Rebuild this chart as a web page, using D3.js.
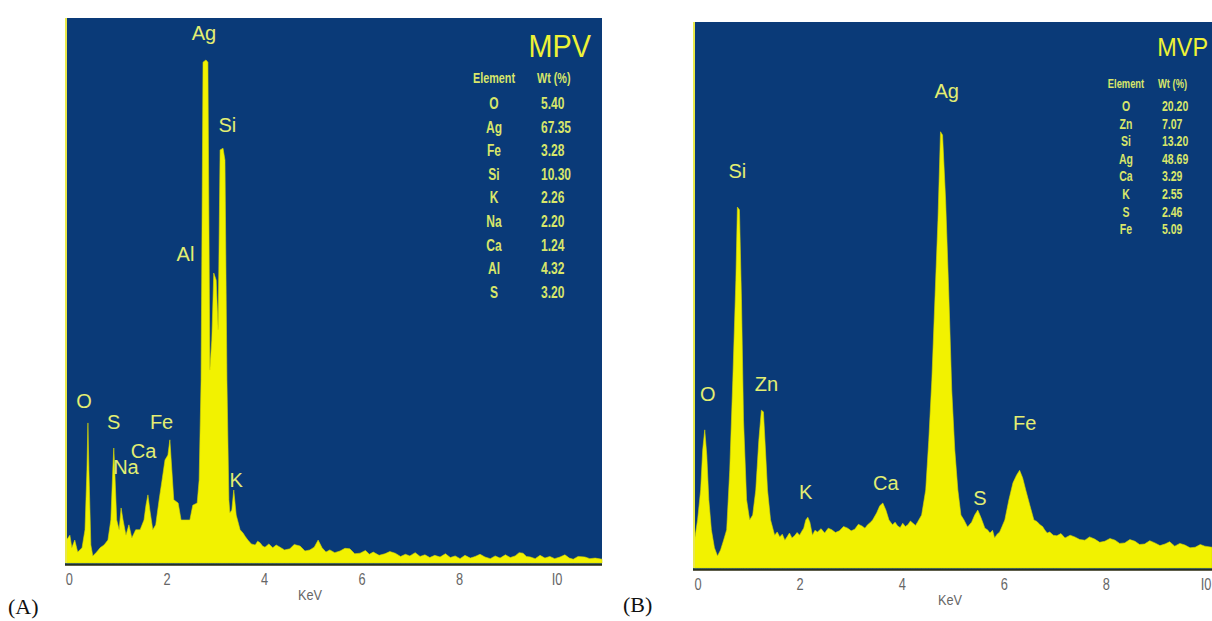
<!DOCTYPE html>
<html>
<head>
<meta charset="utf-8">
<script src="https://cdn.jsdelivr.net/npm/d3@7"></script>
<style>
  body { margin: 0; background: #fff; }
  svg { display: block; }
  .tick text { fill: #666; font-family: "Liberation Sans", Arial, sans-serif; }
</style>
</head>
<body>
<div id="chart"></div>
<script>
// EDX spectra, (A) MPV and (B) MVP.
// counts are % of full scale, energy in keV
var spectrumA = [
  [-0.07, 0], [-0.05, 4.2], [0.02, 5.1], [0.06, 2.8], [0.12, 4.2], [0.18, 2.0], [0.27, 2.8],
  [0.33, 6.1], [0.37, 17.1], [0.39, 25.7], [0.41, 17.1], [0.45, 3.3], [0.49, 1.3], [0.57, 2.0],
  [0.64, 2.8], [0.72, 3.3], [0.80, 4.2], [0.86, 7.9], [0.90, 17.1], [0.92, 21.1], [0.94, 17.1],
  [0.98, 7.9], [1.03, 6.1], [1.07, 10.1], [1.11, 7.9], [1.17, 5.1], [1.23, 7.0], [1.29, 4.6],
  [1.37, 6.1], [1.46, 6.1], [1.54, 7.9], [1.58, 10.6], [1.62, 12.5], [1.66, 9.7], [1.72, 6.1],
  [1.78, 7.0], [1.85, 11.6], [1.91, 15.2], [1.97, 18.9], [2.03, 19.8], [2.07, 22.6], [2.11, 17.1],
  [2.15, 11.6], [2.24, 11.0], [2.30, 7.9], [2.48, 7.9], [2.54, 10.6], [2.63, 11.0], [2.67, 15.2],
  [2.71, 33.6], [2.75, 91.9], [2.81, 92.3], [2.85, 91.9], [2.89, 35.4], [2.93, 40.9], [2.97, 53.2],
  [3.02, 51.9], [3.06, 42.8], [3.10, 75.8], [3.16, 76.1], [3.20, 73.9], [3.24, 33.6], [3.28, 11.6],
  [3.30, 9.2], [3.34, 9.7], [3.38, 13.4], [3.43, 8.8], [3.51, 6.1], [3.57, 5.5], [3.62, 4.8],
  [3.67, 4.2], [3.74, 3.5], [3.82, 3.3], [3.87, 4.0], [3.92, 3.7], [3.97, 3.1], [4.02, 2.9],
  [4.10, 3.5], [4.18, 2.8], [4.25, 3.3], [4.33, 2.9], [4.42, 2.4], [4.53, 2.6], [4.62, 3.4],
  [4.74, 3.1], [4.84, 2.2], [4.94, 2.4], [5.03, 2.9], [5.11, 4.2], [5.19, 2.8], [5.27, 2.0],
  [5.35, 2.4], [5.45, 1.9], [5.56, 2.2], [5.66, 2.7], [5.76, 2.6], [5.86, 1.7], [5.97, 1.8],
  [6.08, 2.3], [6.16, 1.6], [6.24, 2.0], [6.36, 1.4], [6.48, 1.7], [6.58, 2.1], [6.69, 1.8],
  [6.80, 1.2], [6.90, 1.6], [6.99, 1.3], [7.10, 1.9], [7.20, 1.2], [7.30, 1.5], [7.40, 1.0],
  [7.50, 1.4], [7.61, 1.1], [7.72, 1.7], [7.82, 1.0], [7.92, 1.3], [8.02, 0.8], [8.12, 1.4],
  [8.23, 0.9], [8.33, 1.2], [8.43, 1.6], [8.53, 1.1], [8.64, 0.8], [8.74, 1.3], [8.84, 0.9],
  [8.95, 1.5], [9.05, 1.0], [9.15, 1.3], [9.23, 1.9], [9.31, 1.8], [9.38, 1.2], [9.46, 1.1],
  [9.56, 0.8], [9.66, 1.4], [9.76, 0.9], [9.86, 1.2], [9.96, 0.8], [10.07, 1.1], [10.17, 1.5],
  [10.26, 0.9], [10.34, 0.7], [10.44, 1.2], [10.58, 1.1], [10.68, 0.8], [10.79, 0.9], [10.93, 0.7]
];

var spectrumB = [
  [-0.08, 0], [-0.06, 5.1], [0.00, 8.8], [0.06, 14.3], [0.10, 21.6], [0.14, 25.3], [0.18, 20.7],
  [0.22, 12.5], [0.27, 7.0], [0.33, 3.7], [0.39, 2.2], [0.45, 3.3], [0.51, 5.1], [0.57, 7.0],
  [0.63, 17.9], [0.69, 34.4], [0.75, 52.7], [0.78, 66.1], [0.82, 65.6], [0.86, 49.1], [0.90, 27.1],
  [0.96, 12.5], [1.02, 8.8], [1.08, 9.7], [1.14, 14.3], [1.20, 23.4], [1.25, 28.9], [1.29, 28.6],
  [1.33, 21.6], [1.37, 14.3], [1.43, 8.8], [1.51, 6.0], [1.56, 6.6], [1.61, 5.7], [1.66, 6.2],
  [1.71, 5.1], [1.76, 5.8], [1.80, 6.4], [1.85, 5.5], [1.90, 5.9], [1.95, 6.5], [2.00, 6.0],
  [2.04, 6.7], [2.08, 7.3], [2.12, 8.8], [2.16, 9.3], [2.20, 8.4], [2.25, 6.0], [2.30, 6.9],
  [2.35, 6.6], [2.42, 7.2], [2.49, 6.4], [2.56, 7.3], [2.63, 7.0], [2.70, 6.5], [2.78, 6.8],
  [2.86, 7.6], [2.94, 7.3], [3.01, 6.8], [3.08, 7.1], [3.15, 8.0], [3.22, 7.7], [3.28, 7.3],
  [3.33, 7.9], [3.38, 8.3], [3.43, 8.8], [3.51, 10.1], [3.57, 11.4], [3.63, 11.9], [3.69, 10.6],
  [3.75, 8.8], [3.82, 7.9], [3.87, 8.4], [3.92, 7.7], [3.97, 7.4], [4.02, 8.2], [4.07, 7.6],
  [4.12, 7.9], [4.17, 8.6], [4.22, 8.2], [4.27, 7.8], [4.31, 8.4], [4.39, 9.7], [4.47, 14.3],
  [4.53, 23.4], [4.59, 34.4], [4.65, 49.1], [4.71, 63.7], [4.76, 79.9], [4.80, 79.3], [4.86, 67.4],
  [4.92, 50.9], [4.98, 32.6], [5.04, 21.6], [5.10, 14.3], [5.16, 9.7], [5.22, 8.8], [5.29, 7.5],
  [5.37, 8.4], [5.43, 9.7], [5.49, 10.6], [5.55, 9.3], [5.63, 7.3], [5.68, 7.0], [5.73, 6.4],
  [5.78, 6.9], [5.82, 5.5], [5.87, 6.2], [5.92, 6.6], [6.02, 8.8], [6.10, 12.5], [6.18, 15.6],
  [6.25, 17.0], [6.31, 17.9], [6.37, 16.5], [6.43, 14.3], [6.51, 11.5], [6.59, 8.8], [6.65, 8.5],
  [6.71, 7.9], [6.76, 7.6], [6.80, 7.0], [6.85, 6.4], [6.90, 6.6], [6.97, 6.0], [7.04, 5.9],
  [7.12, 6.3], [7.20, 5.5], [7.30, 6.0], [7.39, 5.7], [7.49, 5.2], [7.59, 5.1], [7.68, 5.7],
  [7.78, 5.3], [7.88, 4.7], [7.98, 4.9], [8.08, 5.4], [8.18, 5.1], [8.27, 4.5], [8.37, 4.6],
  [8.47, 5.2], [8.57, 4.9], [8.66, 4.3], [8.76, 4.4], [8.86, 5.0], [8.96, 4.6], [9.06, 4.1],
  [9.16, 4.4], [9.25, 4.8], [9.35, 4.0], [9.45, 4.5], [9.55, 4.2], [9.65, 3.7], [9.75, 3.8],
  [9.85, 4.3], [9.94, 4.0], [10.08, 3.8]
];

// peak labels [text, keV, count]
var peaksA = [
  ["Ag", 2.77, 96.0], ["Si", 3.25, 79.0], ["Al", 2.39, 55.5], ["O", 0.31, 28.5],
  ["S", 0.92, 24.5], ["Fe", 1.90, 24.5], ["Ca", 1.53, 19.2], ["Na", 1.17, 16.4], ["K", 3.43, 13.9]
];
var peaksB = [
  ["Ag", 4.88, 86.0], ["Si", 0.78, 71.5], ["O", 0.20, 30.5], ["Zn", 1.35, 32.5],
  ["K", 2.12, 12.6], ["Ca", 3.69, 14.3], ["S", 5.53, 11.5], ["Fe", 6.41, 25.3]
];

// composition tables
var elementsA = ["O", "Ag", "Fe", "Si", "K", "Na", "Ca", "Al", "S"];
var weightsA = ["5.40", "67.35", "3.28", "10.30", "2.26", "2.20", "1.24", "4.32", "3.20"];
var elementsB = ["O", "Zn", "Si", "Ag", "Ca", "K", "S", "Fe"];
var weightsB = ["20.20", "7.07", "13.20", "48.69", "3.29", "2.55", "2.46", "5.09"];

var kevTicks = [0, 2, 4, 6, 8, 10];
var kevTickLabels = ["0", "2", "4", "6", "8", "I0"];

var W = 1212, H = 621;
var blue = "#0a3a78", yellow = "#f2f200", labelColor = "#e3ee72", tableColor = "#d8e66a";
var sans = "Liberation Sans, Arial, sans-serif";

var svg = d3.select("#chart").append("svg")
  .attr("width", W)
  .attr("height", H);

// narrow text: squeeze a normal face horizontally
function narrowText(sel, x, y, txt, anchor, sx) {
  return sel.append("text")
    .attr("transform", "translate(" + x + "," + y + ") scale(" + sx + ",1)")
    .attr("text-anchor", anchor || "start")
    .text(txt);
}

function drawPanel(cfg) {
  var x = d3.scaleLinear().domain(cfg.kev).range([cfg.left, cfg.right]);
  var y = d3.scaleLinear().domain([0, 100]).range([cfg.bottom, cfg.top]);
  var g = svg.append("g");

  // plot background
  g.append("rect")
    .attr("x", cfg.left)
    .attr("y", cfg.top)
    .attr("width", cfg.right - cfg.left)
    .attr("height", cfg.bottom - cfg.top + 2)
    .attr("fill", blue);

  var area = d3.area()
    .x(function(d) { return x(d[0]); })
    .y0(y(0))
    .y1(function(d) { return y(d[1]); });

  g.append("path")
    .datum(cfg.data)
    .attr("fill", yellow)
    .attr("stroke", "#d8d800")
    .attr("stroke-width", 0.6)
    .attr("d", area);

  // left edge and base line
  g.append("line")
    .attr("x1", cfg.left + 1).attr("x2", cfg.left + 1)
    .attr("y1", cfg.top).attr("y2", cfg.bottom)
    .attr("stroke", "#e8e84a").attr("stroke-width", 2);
  g.append("line")
    .attr("x1", cfg.left).attr("x2", cfg.right)
    .attr("y1", cfg.bottom + 2).attr("y2", cfg.bottom + 2)
    .attr("stroke", "#2b2b10").attr("stroke-width", 1.5);

  // x axis, labels squeezed around each tick
  var axis = g.append("g")
    .attr("transform", "translate(0," + (cfg.bottom + 5) + ")")
    .call(d3.axisBottom(x)
      .tickValues(kevTicks)
      .tickSize(0)
      .tickPadding(6)
      .tickFormat(function(d, i) { return kevTickLabels[i]; }));
  axis.select(".domain").remove();
  axis.selectAll("text")
    .attr("font-size", 16)
    .attr("transform", "scale(0.8,1)");
  if (cfg.lastTickShift) {
    axis.selectAll("text").filter(function(d) { return d === 10; })
      .attr("dx", cfg.lastTickShift);
  }

  narrowText(g, cfg.keVx, cfg.bottom + 37, "KeV", "middle", 0.85)
    .attr("fill", "#666")
    .attr("font-family", sans)
    .attr("font-size", 15);

  g.append("text")
    .attr("x", cfg.tagX).attr("y", cfg.tagY)
    .attr("fill", "#111")
    .attr("font-family", "Liberation Serif, Times New Roman, serif")
    .attr("font-size", 22)
    .text(cfg.tag);

  // peak labels
  g.selectAll(".peak")
    .data(cfg.peaks)
    .enter().append("text")
    .attr("class", "peak")
    .attr("x", function(d) { return x(d[1]); })
    .attr("y", function(d) { return y(d[2]); })
    .attr("text-anchor", "middle")
    .attr("fill", labelColor)
    .attr("font-family", sans)
    .attr("font-size", 20)
    .text(function(d) { return d[0]; });

  // table
  var t = cfg.table;
  narrowText(g, t.titleX, t.titleY, t.title, "end", 0.9)
    .attr("fill", "#eef236")
    .attr("font-family", sans)
    .attr("font-size", t.titleSize);
  var tf = g.append("g")
    .attr("fill", tableColor)
    .attr("font-family", sans)
    .attr("font-weight", "bold")
    .attr("font-size", t.size);
  narrowText(tf, t.elX, t.headY, "Element", "middle", 0.72).attr("font-size", t.size - 1);
  narrowText(tf, t.wtX, t.headY, "Wt (%)", "start", 0.72).attr("font-size", t.size - 1);
  cfg.elements.forEach(function(d, i) {
    narrowText(tf, t.elX, t.rowY + i * t.rowStep, d, "middle", 0.75);
  });
  cfg.weights.forEach(function(d, i) {
    narrowText(tf, t.wtX + 4, t.rowY + i * t.rowStep, d, "start", 0.75);
  });
}

drawPanel({
  data: spectrumA, peaks: peaksA, elements: elementsA, weights: weightsA,
  kev: [-0.08, 10.93], left: 65, right: 602, top: 18, bottom: 563,
  keVx: 310, tag: "(A)", tagX: 8, tagY: 614,
  table: { title: "MPV", titleX: 591, titleY: 57, titleSize: 32,
           elX: 494, wtX: 537, headY: 83, rowY: 109, rowStep: 23.6, size: 16 }
});

drawPanel({
  data: spectrumB, peaks: peaksB, elements: elementsB, weights: weightsB,
  kev: [-0.09, 10.08], left: 693, right: 1212, top: 22, bottom: 568,
  keVx: 950, tag: "(B)", tagX: 623, tagY: 612, lastTickShift: -3,
  table: { title: "MVP", titleX: 1208, titleY: 56, titleSize: 26,
           elX: 1126, wtX: 1158, headY: 88, rowY: 111, rowStep: 17.6, size: 14 }
});
</script>
</body>
</html>
